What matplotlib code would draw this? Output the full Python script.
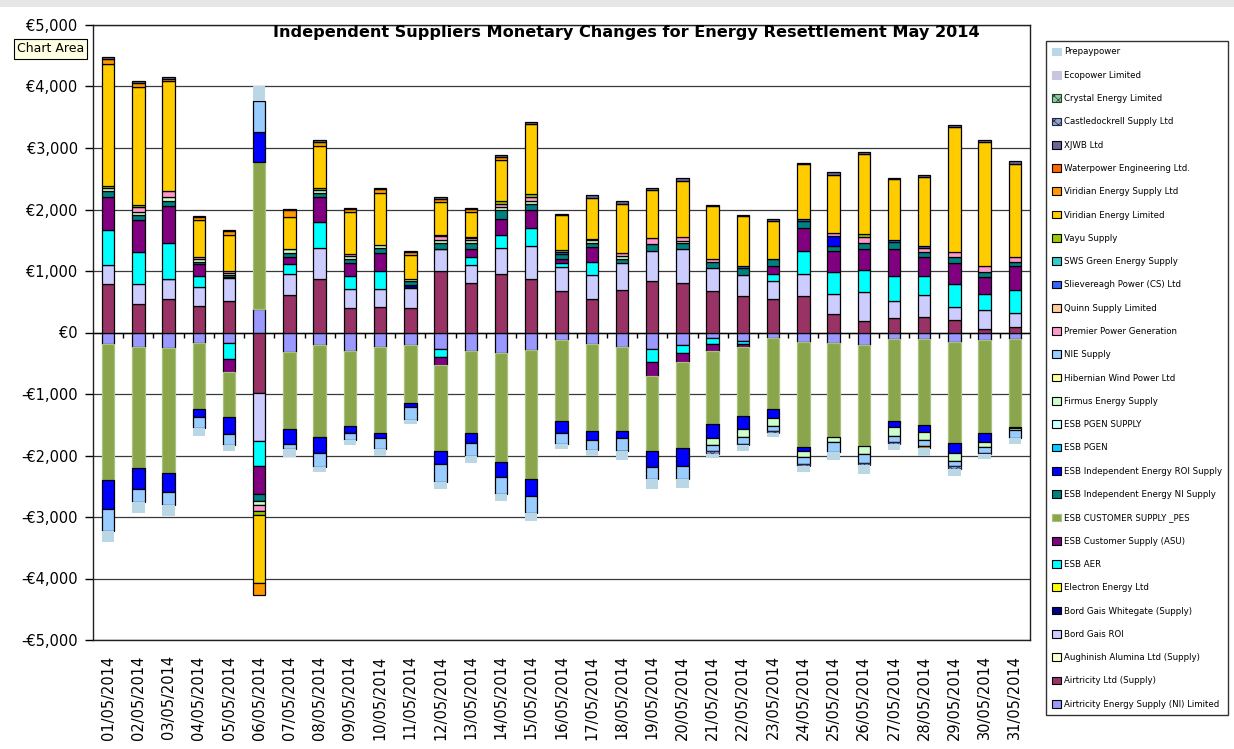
import numpy as np
import matplotlib
matplotlib.use("Agg")
import matplotlib.pyplot as plt
from matplotlib.patches import Patch, Rectangle

matplotlib.rcParams['hatch.linewidth'] = 0.5

dates = ["%02d/05/2014" % d for d in range(1, 32)]

# ---- series values (EUR), one value per day, in Excel series order ----
airtricity_ni = [-190, -233, -244, -168, -165, 390, -320, -211, -304, -233, -211, -276, -304, -341, -287, -130,
                 -195, -233, -266, -211, -87, -141, -92, -152, -168, -211, -103, -103, -157, -125, -103]
airtricity_ltd = [790, 470, 550, 430, 510, -980, 607, 878, 401, 417, 401, 997, 808, 959, 873, 672,
                  548, 688, 835, 797, 672, 591, 548, 591, 304, 195, 239, 255, 211, 60, 92]
aughinish = [0] * 31
bord_gais_roi = [315, 320, 312, 309, 380, -787, 347, 499, 309, 298, 325, 353, 287, 407, 531, 390,
                 379, 434, 498, 553, 369, 352, 287, 368, 330, 466, 270, 352, 206, 302, 228]
bord_gais_whitegate = [0, 0, 15, 0, 15, 0, 0, 0, 0, 0, 54, 15, 0, 0, 0, 0,
                       0, 0, 0, 0, 0, 0, 0, 0, 0, 0, 0, 0, 0, 0, 0]
electron = [0] * 31
esb_aer = [560, 515, 580, 180, -263, -407, 152, 417, 206, 282, 0, -120, 130, 227, 298, 70,
           216, 0, -217, -120, -108, -54, 124, 374, 347, 352, 407, 309, 374, 272, 368]
esb_asu = [536, 520, 596, 190, -217, -444, 119, 406, 217, 288, 0, -135, 125, 255, 287, 65,
           250, 0, -228, -152, -109, -38, 130, 369, 352, 337, 434, 314, 342, 266, 391]
esb_pes = [-2215, -1967, -2033, -1084, -726, 2385, -1241, -1491, -1219, -1398, -932, -1399, -1327, -1762, -2087, -1301,
           -1409, -1371, -1219, -1392, -1176, -1117, -1160, -1713, -1534, -1637, -1328, -1409, -1637, -1517, -1431]
esb_ind_ni = [100, 80, 92, 45, 30, -125, 70, 70, 65, 92, 54, 90, 108, 152, 103, 81,
              65, 76, 98, 98, 102, 108, 98, 108, 81, 108, 122, 81, 98, 81, 70]
esb_ind_roi = [-460, -337, -320, -124, -277, 482, -249, -255, -108, -82, -65, -206, -163, -249, -287, -211,
               -147, -109, -260, -288, -233, -211, -146, -65, 152, 0, -109, -109, -163, -141, -15]
esb_pgen = [0] * 31
esb_pgen_supply = [0] * 31
firmus = [55, 55, 54, 38, 35, -54, 55, 40, 40, 40, 38, 43, 43, 38, 43, 0,
          43, 43, 0, 38, -119, -135, -125, -97, -81, -125, -146, -130, -135, -82, -43]
hibernian = [0] * 31
nie_supply = [-370, -216, -211, -184, -189, 515, -82, -227, -109, -179, -207, -298, -217, -271, -271, -179,
              -163, -206, -189, -227, -98, -114, -81, -109, -157, -157, -97, -97, -82, -102, -130]
premier = [0, 75, 104, 38, 35, -108, 0, 0, 40, 0, 0, 65, 38, 54, 70, 0,
           0, 54, 108, 70, 54, 0, 0, 0, 54, 92, 0, 65, 76, 98, 81]
quinn = [0] * 31
slievereagh = [0, 0, 0, 0, 0, 0, 15, 0, 0, 0, 0, 20, 20, 0, 0, 30,
               27, 0, 0, 0, 0, 27, 0, 38, 0, 0, 30, 27, 0, 0, 0]
sws_green = [0] * 31
vayu = [30, 40, 0, 0, 0, -65, 0, 40, 0, 0, 0, 0, 0, 43, 54, 38,
        0, 0, 0, 0, 0, 0, 0, 0, 0, 54, 0, 0, 0, 0, 0]
viridian_ltd = [1985, 1925, 1780, 600, 586, -1100, 515, 690, 688, 851, 395, 531, 407, 667, 1138, 558,
                651, 797, 770, 905, 856, 813, 623, 884, 948, 1306, 987, 1127, 2038, 2016, 1513]
viridian_supply = [75, 55, 40, 40, 54, -206, 108, 54, 35, 59, 38, 54, 38, 54, 0, 0,
                   0, -15, 0, 0, 0, 0, 0, 0, 0, 0, 0, -33, 0, 0, 0]
waterpower = [0] * 31
xjwb = [30, 30, 25, 25, 25, 0, 25, 30, 25, 27, 20, 30, 27, 30, 27, 27,
        49, 54, 43, 54, 27, 27, 38, 27, 43, 27, 27, 27, 27, 27, 43]
castledockrell = [0, 0, 0, 0, 0, 0, 0, 0, 0, 0, 0, 0, 0, 0, 0, 0,
                  0, 0, 0, 0, -38, -20, -27, -27, 0, -30, -27, 0, -38, -16, 0]
crystal = [0] * 31
ecopower = [0] * 31
prepaypower = [-175, -180, -168, -115, -82, 233, -135, -87, -97, -108, -70, -108, -108, -120, -125, -81,
               -98, -142, -163, -136, -70, -100, -65, -108, -141, -146, -103, -119, -124, -81, -86]

# (label, values, facecolor, edgecolor, hatch)
series = [
    ("Airtricity Energy Supply (NI) Limited", airtricity_ni, "#9999FF", "black", None),
    ("Airtricity Ltd (Supply)", airtricity_ltd, "#993366", "black", None),
    ("Aughinish Alumina Ltd (Supply)", aughinish, "#FFFFCC", "black", None),
    ("Bord Gais ROI", bord_gais_roi, "#CCCCFF", "black", None),
    ("Bord Gais Whitegate (Supply)", bord_gais_whitegate, "#000080", "black", None),
    ("Electron Energy Ltd", electron, "#FFFF00", "black", None),
    ("ESB AER", esb_aer, "#00FFFF", "black", None),
    ("ESB Customer Supply (ASU)", esb_asu, "#800080", "black", None),
    ("ESB CUSTOMER SUPPLY _PES", esb_pes, "#8AA54C", "#A8C27C", None),
    ("ESB Independent Energy NI Supply", esb_ind_ni, "#008080", "black", None),
    ("ESB Independent Energy ROI Supply", esb_ind_roi, "#0000FF", "black", None),
    ("ESB PGEN", esb_pgen, "#00CCFF", "black", None),
    ("ESB PGEN SUPPLY", esb_pgen_supply, "#CCFFFF", "black", None),
    ("Firmus Energy Supply", firmus, "#CCFFCC", "black", None),
    ("Hibernian Wind Power Ltd", hibernian, "#FFFF99", "black", None),
    ("NIE Supply", nie_supply, "#99CCFF", "black", None),
    ("Premier Power Generation", premier, "#FF99CC", "black", None),
    ("Quinn Supply Limited", quinn, "#FFCC99", "black", None),
    ("Slievereagh Power (CS) Ltd", slievereagh, "#3366FF", "black", None),
    ("SWS Green Energy Supply", sws_green, "#33CCCC", "black", None),
    ("Vayu Supply", vayu, "#99CC00", "black", None),
    ("Viridian Energy Limited", viridian_ltd, "#FFCC00", "black", None),
    ("Viridian Energy Supply Ltd", viridian_supply, "#FF9900", "black", None),
    ("Waterpower Engineering Ltd.", waterpower, "#FF6600", "black", None),
    ("XJWB Ltd", xjwb, "#666699", "black", None),
    ("Castledockrell Supply Ltd", castledockrell, "#8FA6C8", "#222244", "xxxx"),
    ("Crystal Energy Limited", crystal, "#8FC8A6", "#224422", "xxxx"),
    ("Ecopower Limited", ecopower, "#CCC4DC", "none", None),
    ("Prepaypower", prepaypower, "#B9D7E4", "none", None),
]

fig = plt.figure(figsize=(12.34, 7.49), dpi=100)
ax = fig.add_axes([93 / 1234, 1 - 640 / 749, (1030 - 93) / 1234, (640 - 25) / 749])

x = np.arange(len(dates))
pos_base = np.zeros(len(dates))
neg_base = np.zeros(len(dates))
handles = []
for label, vals, fc, ec, hatch in series:
    v = np.asarray(vals, dtype=float)
    bottom = np.where(v >= 0, pos_base, neg_base)
    mask = v != 0
    lw = 0.9 if ec != "none" else 0
    if mask.any():
        ax.bar(x[mask], v[mask], bottom=bottom[mask], width=0.41, color=fc,
               edgecolor=ec, linewidth=lw, hatch=hatch, zorder=3)
    pos_base += np.where(v > 0, v, 0)
    neg_base += np.where(v < 0, v, 0)
    handles.append(Patch(facecolor=fc, edgecolor=(ec if ec != "none" else fc),
                         linewidth=0.8, hatch=hatch, label=label))

ax.set_xlim(-0.5, len(dates) - 0.5)
ax.set_ylim(-5000, 5000)
yt = np.arange(-5000, 5001, 1000)
ax.set_yticks(yt)
ax.set_yticklabels([("-€{:,}".format(-v) if v < 0 else "€{:,}".format(v)) for v in yt], fontsize=10.5)
ax.yaxis.grid(True, color="#3a3a3a", linewidth=0.9, zorder=0)
ax.set_axisbelow(True)
ax.tick_params(axis="y", direction="out", length=6, width=1, pad=5)
ax.set_xticks(x)
ax.set_xticklabels(dates, rotation=90, fontsize=10.5)
ax.tick_params(axis="x", length=0, pad=11)

# category axis crossing at zero with tick marks between categories
ax.axhline(0, color="black", linewidth=1.0, zorder=1)
ax.vlines(np.arange(0.5, len(dates) - 0.5, 1), -90, 0, color="black", linewidth=1.0, zorder=1)

for s in ax.spines.values():
    s.set_color("#202020")
    s.set_linewidth(1.0)

fig.text(626 / 1234, 1 - 33 / 749,
         "Independent Suppliers Monetary Changes for Energy Resettlement May 2014",
         ha="center", va="center", fontsize=11.6, fontweight="bold")

leg = fig.legend(handles[::-1], [h.get_label() for h in handles[::-1]],
                 loc="upper left", bbox_to_anchor=(1046 / 1234, 1 - 41 / 749),
                 fontsize=6.2, frameon=True, fancybox=False, labelspacing=1.66,
                 handlelength=1.0, handleheight=1.0, handletextpad=0.3,
                 borderpad=0.75, borderaxespad=0)
leg.get_frame().set_edgecolor("black")
leg.get_frame().set_linewidth(1.0)

# screenshot artefacts: top grey strip and "Chart Area" tooltip
fig.patches.append(Rectangle((0, 1 - 7 / 749), 1, 7 / 749, transform=fig.transFigure,
                             facecolor="#E6E6E6", edgecolor="none"))
fig.text(17 / 1234, 1 - 49 / 749, "Chart Area", ha="left", va="center", fontsize=9,
         bbox=dict(boxstyle="square,pad=0.25", facecolor="#FFFFE1", edgecolor="black", linewidth=0.8))

fig.savefig("out.png", dpi=100)
